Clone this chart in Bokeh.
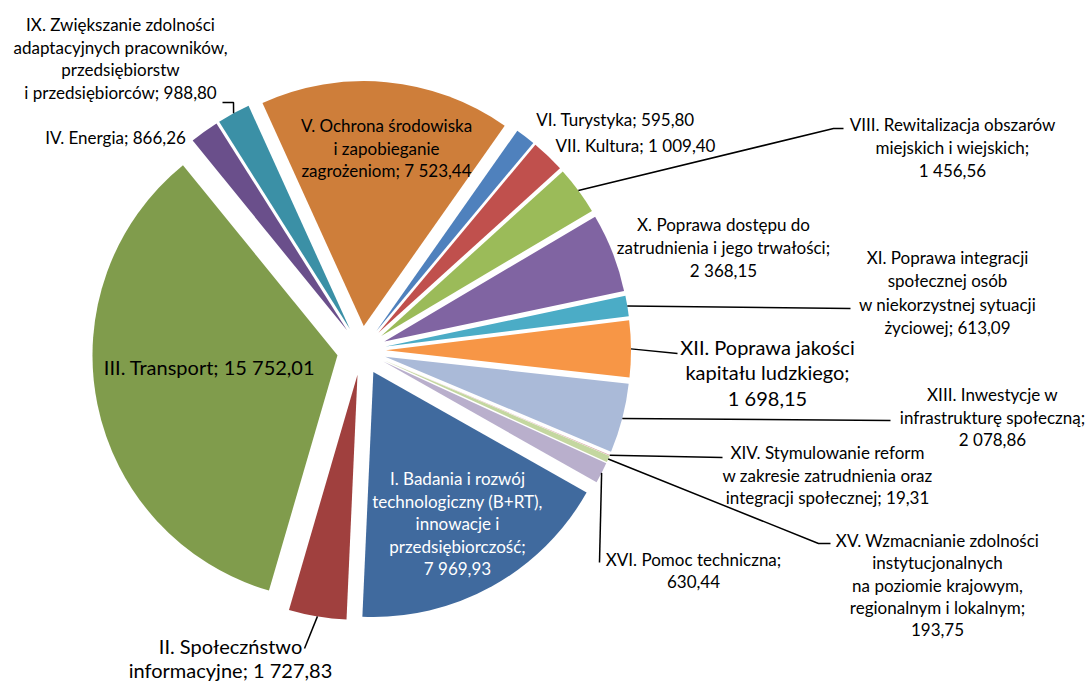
import math
from bokeh.plotting import figure
from bokeh.models import Range1d
from bokeh.embed import file_html
from bokeh.resources import INLINE
from bokeh.core.properties import value

# ---------------- data (clockwise order of slices) ----------------
codes = ["I", "II", "III", "IV", "IX", "V", "VI", "VII", "VIII", "X",
         "XI", "XII", "XIII", "XIV", "XV", "XVI"]
names = [
    "I. Badania i rozwój\ntechnologiczny (B+RT),\ninnowacje i\nprzedsiębiorczość;",
    "II. Społeczństwo\ninformacyjne;",
    "III. Transport;",
    "IV. Energia;",
    "IX. Zwiększanie zdolności\nadaptacyjnych pracowników,\nprzedsiębiorstw\ni przedsiębiorców;",
    "V. Ochrona środowiska\ni zapobieganie\nzagrożeniom;",
    "VI. Turystyka;",
    "VII. Kultura;",
    "VIII. Rewitalizacja obszarów\nmiejskich i wiejskich;",
    "X. Poprawa dostępu do\nzatrudnienia i jego trwałości;",
    "XI. Poprawa integracji\nspołecznej osób\nw niekorzystnej sytuacji\nżyciowej;",
    "XII. Poprawa jakości\nkapitału ludzkiego;",
    "XIII. Inwestycje w\ninfrastrukturę społeczną;",
    "XIV. Stymulowanie reform\nw zakresie zatrudnienia oraz\nintegracji społecznej;",
    "XV. Wzmacnianie zdolności\ninstytucjonalnych\nna poziomie krajowym,\nregionalnym i lokalnym;",
    "XVI. Pomoc techniczna;",
]
values = [7969.93, 1727.83, 15752.01, 866.26, 988.80, 7523.44, 595.80, 1009.40,
          1456.56, 2368.15, 613.09, 1698.15, 2078.86, 19.31, 193.75, 630.44]
colors = ["#406A9E", "#A0403E", "#809C4C", "#6A4F8B", "#3B90A6", "#CE7E3A",
          "#4F81BD", "#C0504D", "#9BBB59", "#8064A2", "#4BACC6", "#F79646",
          "#AABAD8", "#D9AAA9", "#C4D7A0", "#B9AFCC"]

# ---------------- layout (page-pixel coordinates) ----------------
W, H = 1087, 682
OFF = 0
CX, CY = 361, 350          # pie centre (image px)
R = 245                    # radius
EXPLODE = 24.5             # explosion offset
FIRST_ANGLE = 119.5        # clockwise from 12 o'clock, start of first slice

FONT = "Lato"
FS, FB = 17, 20
# code: (x centre, first line y, line spacing, font px, colour, value separator)
label_layout = {
    "I": (457, 478, 22.6, FS, "white", "\n"),
    "II": (230, 645, 24, FB, "black", " "),
    "III": (209, 366, 0, FB, "black", " "),
    "IV": (115, 137, 0, FS, "black", " "),
    "IX": (120, 24, 22.7, FS, "black", " "),
    "V": (386, 125, 22.5, FS, "black", " "),
    "VI": (615, 119, 0, FS, "black", " "),
    "VII": (635, 145, 0, FS, "black", " "),
    "VIII": (952, 124, 23, FS, "black", "\n"),
    "X": (723, 224, 23, FS, "black", "\n"),
    "XI": (947, 257, 23.3, FS, "black", " "),
    "XII": (767, 346, 25.5, FB, "black", "\n"),
    "XIII": (992, 394, 22.5, FS, "black", "\n"),
    "XIV": (827, 452, 22.5, FS, "black", " "),
    "XV": (937, 540, 22.3, FS, "black", "\n"),
    "XVI": (693, 559, 22, FS, "black", "\n"),
}
# leader lines: extra points after the rim point (image px)
leaders = {
    "IX": [(233, 102), (222, 102)],
    "VIII": [(833, 128), (843, 128)],
    "XI": [(850, 308)],
    "XII": [(677, 353)],
    "XIII": [(890, 420)],
    "XIV": [(722, 457)],
    "XV": [(818, 543), (830, 543)],
    "XVI": [(599, 562)],
    "II": [(304, 648)],
}


def dx(x):
    return x - OFF


def dy(y):
    return H - (y - OFF)


def fmt(v):
    return "{:,.2f}".format(v).replace(",", " ").replace(".", ",")


p = figure(width=W, height=H, output_backend="svg", toolbar_location=None,
           x_range=Range1d(0, W), y_range=Range1d(0, H),
           x_axis_type=None, y_axis_type=None, min_border=0)
p.grid.visible = False
p.outline_line_color = None
p.background_fill_color = "white"
p.border_fill_color = "white"

total = sum(values)
cum = 0.0
rim = {}
for code, v, c in zip(codes, values, colors):
    t1 = FIRST_ANGLE + 360.0 * cum / total
    cum += v
    t2 = FIRST_ANGLE + 360.0 * cum / total
    tm = math.radians((t1 + t2) / 2)
    ex = dx(CX) + EXPLODE * math.sin(tm)
    ey = dy(CY) + EXPLODE * math.cos(tm)
    p.wedge(x=[ex], y=[ey], radius=R,
            start_angle=[math.radians(90 - t2)], end_angle=[math.radians(90 - t1)],
            fill_color=c, line_color=None)
    rim[code] = (ex + R * math.sin(tm), ey + R * math.cos(tm))

# leader lines
for code, pts in leaders.items():
    xs = [rim[code][0]] + [dx(x) for x, _ in pts]
    ys = [rim[code][1]] + [dy(y) for _, y in pts]
    p.line(xs, ys, line_color="black", line_width=1.5)

# labels
for code, name, v in zip(codes, names, values):
    x0, y0, ls, fs, col, sep = label_layout[code]
    lines = (name + sep + fmt(v)).split("\n")
    p.text(x=[dx(x0)] * len(lines),
           y=[dy(y0 + i * ls) for i in range(len(lines))],
           text=lines, text_align="center", text_baseline="middle",
           text_font=value(FONT), text_font_size=f"{fs}px", text_color=col)

open("out.html", "w").write(file_html(p, INLINE))
